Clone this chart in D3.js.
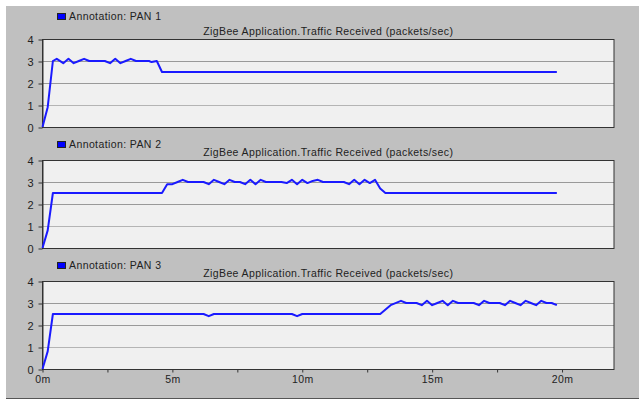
<!DOCTYPE html>
<html>
<head>
<meta charset="UTF-8">
<title>ZigBee traffic received</title>
<style>
  body { margin: 0; background: #fff; }
  text { font-family: "Liberation Sans", Arial, sans-serif; }
</style>
</head>
<body>
<script src="https://d3js.org/d3.v7.min.js"></script>
<script>
  // time in minutes, packets/sec
  const pan1 = [[0,0],[0.2,0.9],[0.4,3.0],[0.55,3.1],[0.8,2.9],[1.0,3.1],[1.2,2.9],[1.4,3.0],[1.6,3.1],[1.8,3.0],[2.4,3.0],[2.6,2.9],[2.8,3.1],[3.0,2.9],[3.2,3.0],[3.4,3.1],[3.6,3.0],[4.1,3.0],[4.2,2.95],[4.4,3.0],[4.6,2.5],[19.8,2.5]];
  const pan2 = [[0,0],[0.2,0.8],[0.4,2.5],[4.6,2.5],[4.8,2.9],[5.0,2.9],[5.2,3.0],[5.4,3.1],[5.6,3.0],[6.2,3.0],[6.4,2.9],[6.6,3.1],[6.8,3.0],[7.0,2.9],[7.2,3.1],[7.4,3.0],[7.6,3.0],[7.8,2.9],[8.0,3.1],[8.2,2.9],[8.4,3.1],[8.6,3.0],[9.2,3.0],[9.4,2.95],[9.6,3.1],[9.8,2.9],[10.0,3.1],[10.2,2.95],[10.4,3.05],[10.6,3.1],[10.8,3.0],[11.6,3.0],[11.8,2.9],[12.0,3.1],[12.2,2.9],[12.4,3.1],[12.6,2.95],[12.8,3.1],[13.0,2.7],[13.2,2.5],[19.8,2.5]];
  const pan3 = [[0,0],[0.2,0.8],[0.4,2.5],[6.2,2.5],[6.4,2.4],[6.6,2.5],[9.6,2.5],[9.8,2.4],[10.0,2.5],[13.0,2.5],[13.4,2.9],[13.8,3.1],[14.0,3.0],[14.4,3.0],[14.6,2.9],[14.8,3.1],[15.0,2.9],[15.2,3.0],[15.4,3.1],[15.6,2.9],[15.8,3.1],[16.0,3.0],[16.6,3.0],[16.8,2.9],[17.0,3.1],[17.2,3.0],[17.6,3.0],[17.8,2.9],[18.0,3.1],[18.2,3.0],[18.4,2.9],[18.6,3.1],[18.8,3.0],[19.0,2.9],[19.2,3.1],[19.4,3.0],[19.6,3.0],[19.8,2.9]];

  const panNames = ["Annotation: PAN 1", "Annotation: PAN 2", "Annotation: PAN 3"];
  const panData = [pan1, pan2, pan3];
  const chartTitle = "ZigBee Application.Traffic Received (packets/sec)";
  const yTicks = [0, 1, 2, 3, 4];
  const xTicks = [0, 2.5, 5, 7.5, 10, 12.5, 15, 17.5, 20];

  const width = 639, height = 403;
  const plotTops = [39, 160, 281];
  const legendY = [13, 141, 262];
  const plotH = 88;
  const fontSize = 10.5;
  const spacing = 0.4;

  const svg = d3.select("body").append("svg").attr("width", width).attr("height", height);

  // grey frame
  svg.append("rect").attr("x", 6).attr("y", 6).attr("width", width - 6).attr("height", 392).attr("fill", "#c0c0c0");
  svg.append("line").attr("x1", 6).attr("x2", width).attr("y1", 398.5).attr("y2", 398.5).attr("stroke", "#555");

  const x = d3.scaleLinear().domain([0, 22]).range([42.5, 614]);

  panData.forEach(function(data, i) {
    const top = plotTops[i];
    const y = d3.scaleLinear().domain([0, 4]).range([top + plotH, top]);
    const g = svg.append("g");

    // plot area
    g.append("rect")
      .attr("x", x(0)).attr("y", top)
      .attr("width", x(22) - x(0)).attr("height", plotH)
      .attr("fill", "#f0f0f0");

    // grid
    g.selectAll(".grid").data([1, 2, 3]).enter().append("line")
      .attr("x1", x(0)).attr("x2", x(22))
      .attr("y1", function(d) { return Math.round(y(d)) + 0.5; })
      .attr("y2", function(d) { return Math.round(y(d)) + 0.5; })
      .attr("stroke", function(d) { return d == 1 ? "#b4b4b4" : "#999"; });

    // frame
    g.append("rect")
      .attr("x", x(0)).attr("y", top + 0.5)
      .attr("width", x(22) - x(0)).attr("height", plotH)
      .attr("fill", "none").attr("stroke", "#333");

    // y axis
    const ay = g.append("g")
      .attr("transform", "translate(" + x(0) + ",0.5)")
      .call(d3.axisLeft(y).tickValues(yTicks).tickFormat(d3.format("d")).tickSize(4).tickSizeOuter(0).tickPadding(5));
    ay.select(".domain").attr("stroke", "#333");
    ay.selectAll("line").attr("stroke", "#333");
    ay.selectAll("text").attr("font-size", 11).attr("fill", "#222").attr("font-family", "Liberation Sans, Arial, sans-serif");

    // x axis on last panel
    if (i == panData.length - 1) {
      const ax = g.append("g")
        .attr("transform", "translate(0," + (top + plotH + 0.5) + ")")
        .call(d3.axisBottom(x).tickValues(xTicks).tickSize(3).tickSizeOuter(0).tickPadding(3)
          .tickFormat(function(d) { return d % 5 == 0 ? d + "m" : ""; }));
      ax.select(".domain").remove();
      ax.selectAll("line").attr("stroke", "#333");
      ax.selectAll("text").attr("font-size", fontSize).attr("letter-spacing", spacing)
        .attr("fill", "#222").attr("font-family", "Liberation Sans, Arial, sans-serif");
    }

    // title
    g.append("text")
      .attr("x", (x(0) + x(22)) / 2).attr("y", top - 4)
      .attr("text-anchor", "middle").attr("font-size", fontSize).attr("letter-spacing", spacing)
      .attr("fill", "#222")
      .text(chartTitle);

    // legend
    g.append("rect")
      .attr("x", 57.5).attr("y", legendY[i] + 0.5).attr("width", 8).attr("height", 6)
      .attr("fill", "#0000ff").attr("stroke", "#222");
    g.append("text")
      .attr("x", 69).attr("y", legendY[i] + 6.5)
      .attr("font-size", fontSize).attr("letter-spacing", spacing).attr("fill", "#222")
      .text(panNames[i]);

    // series
    const line = d3.line()
      .x(function(d) { return x(d[0]); })
      .y(function(d) { return y(d[1]); });
    g.append("path")
      .datum(data)
      .attr("d", line)
      .attr("fill", "none")
      .attr("stroke", "#1a1aff")
      .attr("stroke-width", 2)
      .attr("stroke-linejoin", "round");
  });
</script>
</body>
</html>
